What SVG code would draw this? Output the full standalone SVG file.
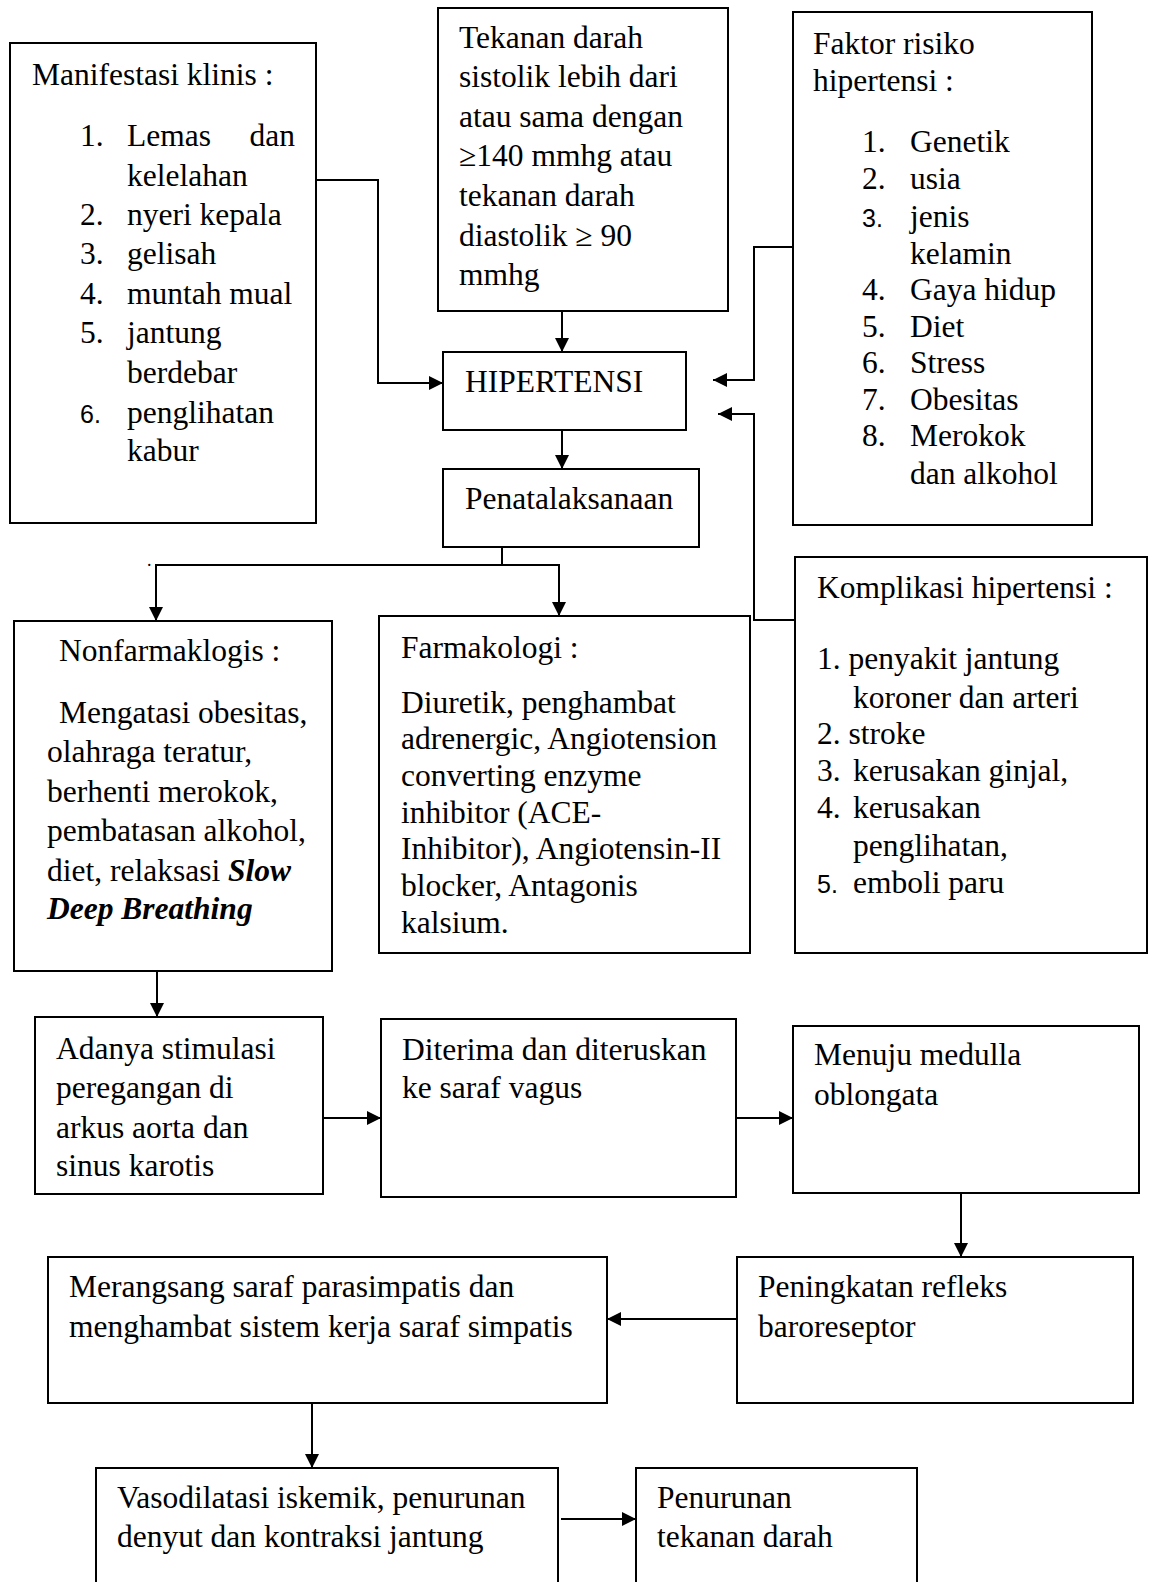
<svg xmlns="http://www.w3.org/2000/svg" width="1152" height="1582" viewBox="0 0 1152 1582">
<defs>
<marker id="ah" markerUnits="userSpaceOnUse" markerWidth="14" markerHeight="14" viewBox="0 0 14 14" refX="14" refY="7" orient="auto">
<path d="M0,0 L14,7 L0,14 z" fill="#000"/>
</marker>
</defs>
<style>
.box{fill:#fff;stroke:#000;stroke-width:2}
.t{font-family:"Liberation Serif","Times New Roman",serif;font-size:31.5px;fill:#000}
.s{font-family:"Liberation Sans",Arial,sans-serif;font-size:25px;fill:#000}
.bi{font-weight:bold;font-style:italic}
.c{fill:none;stroke:#000;stroke-width:2;marker-end:url(#ah)}
.l{fill:none;stroke:#000;stroke-width:2}
</style>
<rect width="1152" height="1582" fill="#fff"/>

<g id="connectors">
<polyline class="c" points="316,180 378,180 378,383 443,383"/>
<polyline class="c" points="562,311 562,352"/>
<polyline class="c" points="793,247 754,247 754,380 713,380"/>
<polyline class="c" points="795,620 754,620 754,414 718,414"/>
<polyline class="c" points="562,430 562,469"/>
<polyline class="l" points="502,547 502,565"/>
<polyline class="c" points="502,565 156,565 156,621"/>
<polyline class="c" points="502,565 559,565 559,616"/>
<polyline class="c" points="157,971 157,1017"/>
<polyline class="c" points="323,1118 381,1118"/>
<polyline class="c" points="736,1118 793,1118"/>
<polyline class="c" points="961,1193 961,1257"/>
<polyline class="c" points="737,1319 607,1319"/>
<polyline class="c" points="312,1403 312,1468"/>
<polyline class="c" points="561,1519 636,1519"/>
<text class="t" x="147" y="566" style="font-size:18px">.</text>
</g>

<g id="manifestasi">
<rect class="box" x="10" y="43" width="306" height="480"/>
<text class="t" x="32" y="85">Manifestasi klinis :</text>
<text class="t" x="80" y="146">1.</text><text class="t" x="127" y="146">Lemas</text><text class="t" x="295" y="146" text-anchor="end">dan</text>
<text class="t" x="127" y="186">kelelahan</text>
<text class="t" x="80" y="225">2.</text><text class="t" x="127" y="225">nyeri kepala</text>
<text class="t" x="80" y="264">3.</text><text class="t" x="127" y="264">gelisah</text>
<text class="t" x="80" y="304">4.</text><text class="t" x="127" y="304">muntah mual</text>
<text class="t" x="80" y="343">5.</text><text class="t" x="127" y="343">jantung</text>
<text class="t" x="127" y="383">berdebar</text>
<text class="s" x="80" y="423">6.</text><text class="t" x="127" y="423">penglihatan</text>
<text class="t" x="127" y="461">kabur</text>
</g>

<g id="tekanan">
<rect class="box" x="438" y="8" width="290" height="303"/>
<text class="t" x="459" y="48">Tekanan darah</text>
<text class="t" x="459" y="87">sistolik lebih dari</text>
<text class="t" x="459" y="127">atau sama dengan</text>
<text class="t" x="459" y="166">≥140 mmhg atau</text>
<text class="t" x="459" y="206">tekanan darah</text>
<text class="t" x="459" y="246">diastolik ≥ 90</text>
<text class="t" x="459" y="285">mmhg</text>
</g>

<g id="faktor">
<rect class="box" x="793" y="12" width="299" height="513"/>
<text class="t" x="813" y="54">Faktor risiko</text>
<text class="t" x="813" y="91">hipertensi :</text>
<text class="t" x="862" y="152">1.</text><text class="t" x="910" y="152">Genetik</text>
<text class="t" x="862" y="189">2.</text><text class="t" x="910" y="189">usia</text>
<text class="s" x="862" y="227">3.</text><text class="t" x="910" y="227">jenis</text>
<text class="t" x="910" y="264">kelamin</text>
<text class="t" x="862" y="300">4.</text><text class="t" x="910" y="300">Gaya hidup</text>
<text class="t" x="862" y="337">5.</text><text class="t" x="910" y="337">Diet</text>
<text class="t" x="862" y="373">6.</text><text class="t" x="910" y="373">Stress</text>
<text class="t" x="862" y="410">7.</text><text class="t" x="910" y="410">Obesitas</text>
<text class="t" x="862" y="446">8.</text><text class="t" x="910" y="446">Merokok</text>
<text class="t" x="910" y="484">dan alkohol</text>
</g>

<g id="hipertensi">
<rect class="box" x="443" y="352" width="243" height="78"/>
<text class="t" x="465" y="392">HIPERTENSI</text>
</g>

<g id="penatalaksanaan">
<rect class="box" x="443" y="469" width="256" height="78"/>
<text class="t" x="465" y="509">Penatalaksanaan</text>
</g>

<g id="nonfarmakologis">
<rect class="box" x="14" y="621" width="318" height="350"/>
<text class="t" x="59" y="661">Nonfarmaklogis :</text>
<text class="t" x="59" y="723">Mengatasi obesitas,</text>
<text class="t" x="47" y="762">olahraga teratur,</text>
<text class="t" x="47" y="802">berhenti merokok,</text>
<text class="t" x="47" y="841">pembatasan alkohol,</text>
<text class="t" x="47" y="881">diet, relaksasi <tspan class="bi">Slow</tspan></text>
<text class="t bi" x="47" y="919">Deep Breathing</text>
</g>

<g id="farmakologi">
<rect class="box" x="379" y="616" width="371" height="337"/>
<text class="t" x="401" y="658">Farmakologi :</text>
<text class="t" x="401" y="713">Diuretik, penghambat</text>
<text class="t" x="401" y="749">adrenergic, Angiotension</text>
<text class="t" x="401" y="786">converting enzyme</text>
<text class="t" x="401" y="823">inhibitor (ACE-</text>
<text class="t" x="401" y="859">Inhibitor), Angiotensin-II</text>
<text class="t" x="401" y="896">blocker, Antagonis</text>
<text class="t" x="401" y="933">kalsium.</text>
</g>

<g id="komplikasi">
<rect class="box" x="795" y="557" width="352" height="396"/>
<text class="t" x="817" y="598">Komplikasi hipertensi :</text>
<text class="t" x="817" y="669">1. penyakit jantung</text>
<text class="t" x="853" y="708">koroner dan arteri</text>
<text class="t" x="817" y="744">2. stroke</text>
<text class="t" x="817" y="781">3.</text><text class="t" x="853" y="781">kerusakan ginjal,</text>
<text class="t" x="817" y="818">4.</text><text class="t" x="853" y="818">kerusakan</text>
<text class="t" x="853" y="856">penglihatan,</text>
<text class="s" x="817" y="893">5.</text><text class="t" x="853" y="893">emboli paru</text>
</g>

<g id="adanya">
<rect class="box" x="35" y="1017" width="288" height="177"/>
<text class="t" x="56" y="1059">Adanya stimulasi</text>
<text class="t" x="56" y="1098">peregangan di</text>
<text class="t" x="56" y="1138">arkus aorta dan</text>
<text class="t" x="56" y="1176">sinus karotis</text>
</g>

<g id="diterima">
<rect class="box" x="381" y="1019" width="355" height="178"/>
<text class="t" x="402" y="1060">Diterima dan diteruskan</text>
<text class="t" x="402" y="1098">ke saraf vagus</text>
</g>

<g id="menuju">
<rect class="box" x="793" y="1026" width="346" height="167"/>
<text class="t" x="814" y="1065">Menuju medulla</text>
<text class="t" x="814" y="1105">oblongata</text>
</g>

<g id="peningkatan">
<rect class="box" x="737" y="1257" width="396" height="146"/>
<text class="t" x="758" y="1297">Peningkatan refleks</text>
<text class="t" x="758" y="1337">baroreseptor</text>
</g>

<g id="merangsang">
<rect class="box" x="48" y="1257" width="559" height="146"/>
<text class="t" x="69" y="1297">Merangsang saraf parasimpatis dan</text>
<text class="t" x="69" y="1337">menghambat sistem kerja saraf simpatis</text>
</g>

<g id="vasodilatasi">
<rect class="box" x="96" y="1468" width="462" height="130"/>
<text class="t" x="117" y="1508">Vasodilatasi iskemik, penurunan</text>
<text class="t" x="117" y="1547">denyut dan kontraksi jantung</text>
</g>

<g id="penurunan">
<rect class="box" x="636" y="1468" width="281" height="130"/>
<text class="t" x="657" y="1508">Penurunan</text>
<text class="t" x="657" y="1547">tekanan darah</text>
</g>
</svg>
